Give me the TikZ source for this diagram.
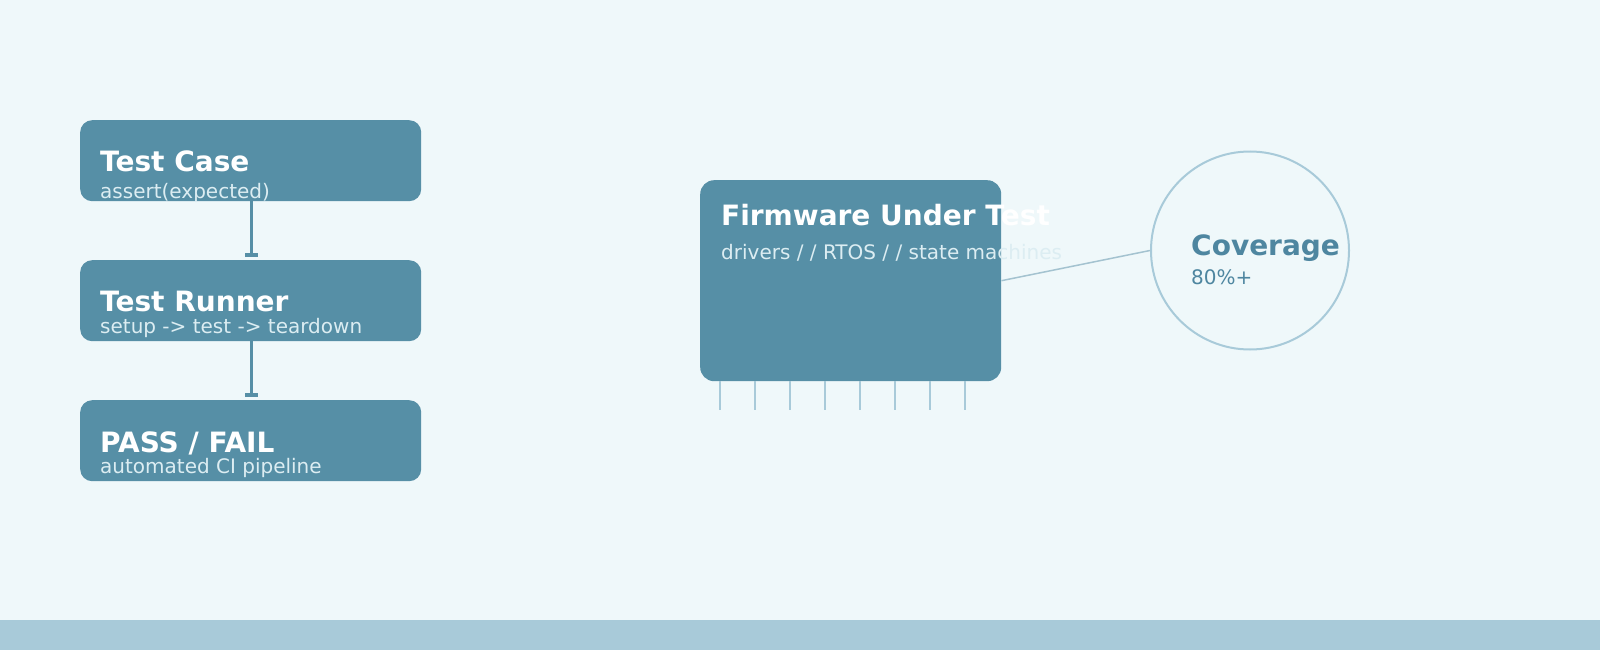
\documentclass[tikz,border=0pt]{standalone}
\usepackage{fontspec}
\setmainfont{DejaVu Sans}
\usetikzlibrary{arrows.meta}
\definecolor{bg}{HTML}{EFF8FA}
\definecolor{bar}{HTML}{A8CAD9}
\definecolor{boxc}{HTML}{568FA6}
\definecolor{subc}{HTML}{DCEDF2}
\definecolor{covc}{HTML}{4E86A0}
\tikzset{
  card/.style={fill=boxc, rounded corners=12pt, minimum width=341pt, minimum height=81pt, anchor=north west, inner sep=0pt},
  ttl/.style={anchor=base west, inner sep=0pt, text=white, font=\fontsize{28}{32}\selectfont\bfseries},
  sub/.style={anchor=base west, inner sep=0pt, text=subc, font=\fontsize{20}{23}\selectfont},
  link/.style={draw=boxc, line width=3pt, -{Rectangle[length=4pt,width=13pt]}, shorten >=3pt},
  pin/.style={draw=bar, line width=2.5pt},
}
\begin{document}
\begin{tikzpicture}[x=1pt,y=-1pt]
\fill[bg] (0,0) rectangle (1600,650);
\useasboundingbox (0,0) rectangle (1600,650);
\fill[bar] (0,620) rectangle (1600,650);

% left stack
\node[card] (tc) at (80,120) {};
\node[card] (tr) at (80,260) {};
\node[card] (pf) at (80,400) {};
\node[ttl] (tct) at (100,171) {Test Case};
\node[sub] (tcs) at (100,198) {assert(expected)};
\node[ttl] (trt) at (100,311) {Test Runner};
\node[sub] (trs) at (100,333) {setup -> test -> teardown};
\node[ttl] (pft) at (100,452) {PASS / FAIL};
\node[sub] (pfs) at (100,473) {automated CI pipeline};
\draw[link] (tc.south -| 251,0) -- (tr.north -| 251,0);
\draw[link] (tr.south -| 251,0) -- (pf.north -| 251,0);

% firmware
\node[fill=boxc, rounded corners=14pt, minimum width=301pt, minimum height=201pt, anchor=north west, inner sep=0pt] (fw) at (700,180) {};
\foreach \i in {0,...,7} {
  \draw[pin] (720+35*\i,381) -- (720+35*\i,410);
}
\node[ttl] (fwt) at (721,225) {Firmware Under Test};
\node[sub] (fws) at (721,259) {drivers / / RTOS / / state machines};

% coverage
\node[circle, draw=bar, line width=2pt, minimum size=198pt, inner sep=0pt] (cov) at (1250,250.5) {};
\draw[draw=bar!90!gray, line width=1.5pt] (fw.east) -- (cov.west);
\node[anchor=base west, inner sep=0pt, text=covc, font=\fontsize{28}{32}\selectfont\bfseries] (covt) at (1191,255) {Coverage};
\node[anchor=base west, inner sep=0pt, text=covc, font=\fontsize{20}{23}\selectfont] (covs) at (1191,284) {80\%+};
\end{tikzpicture}
\end{document}
